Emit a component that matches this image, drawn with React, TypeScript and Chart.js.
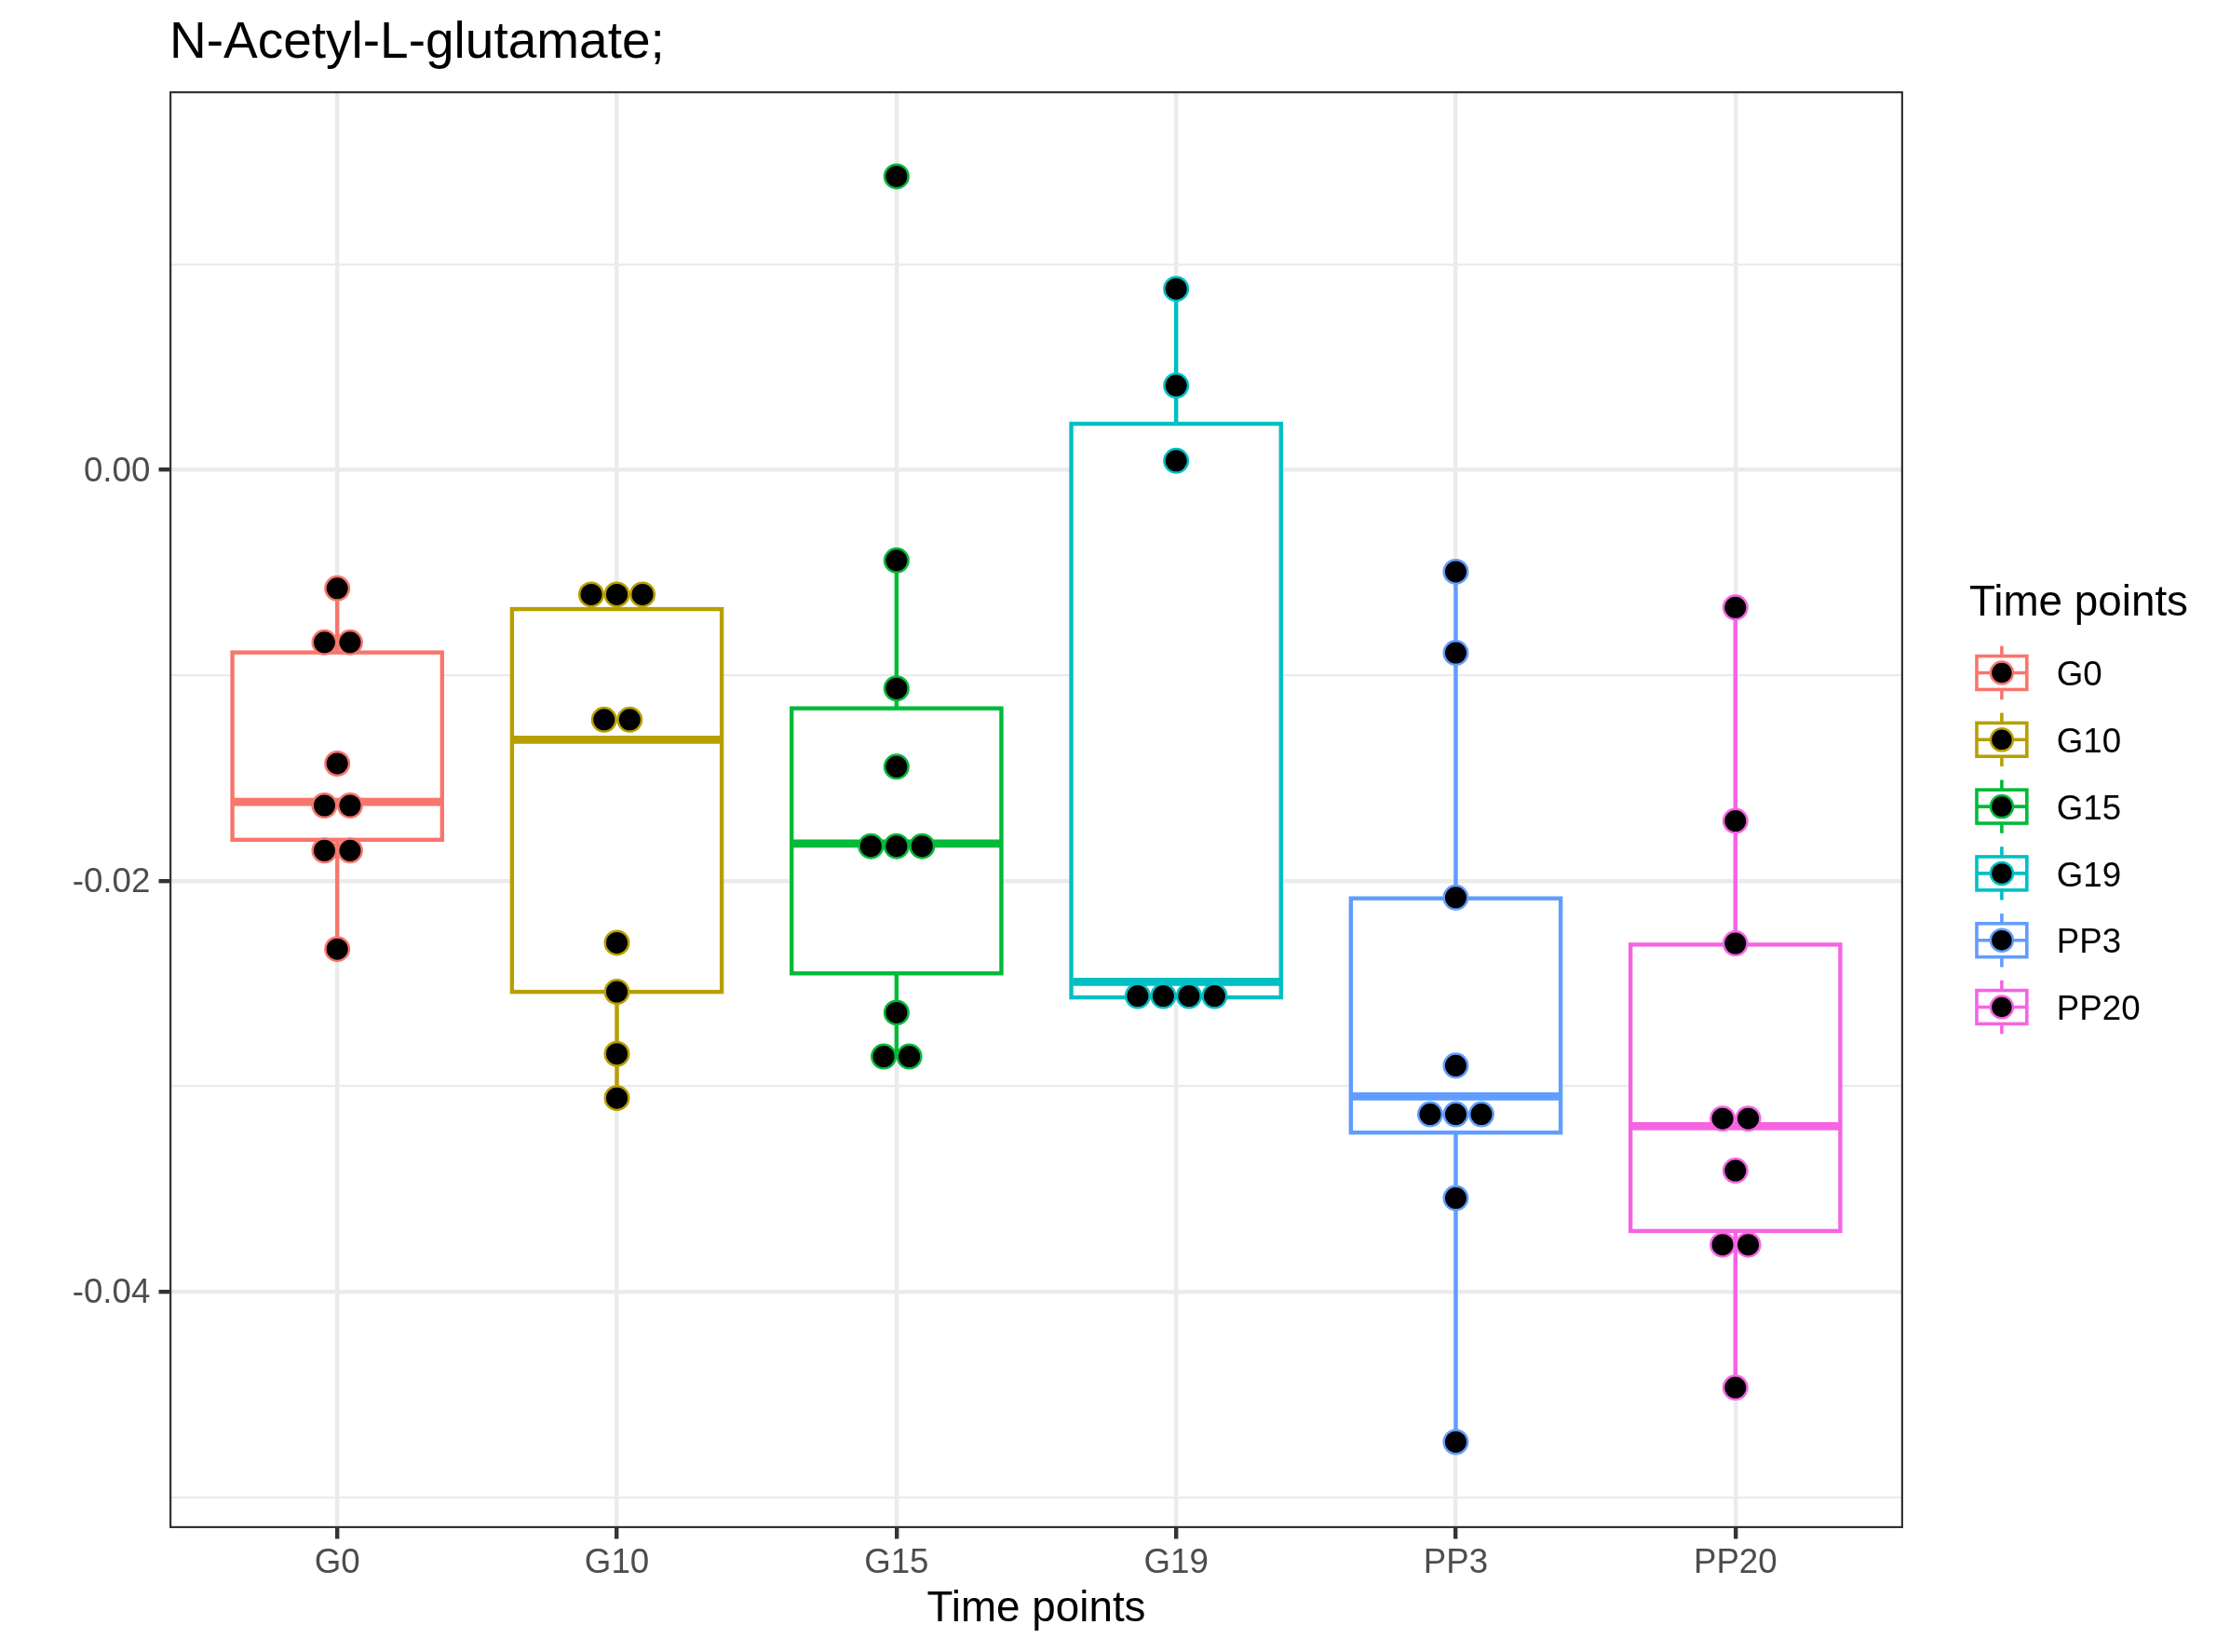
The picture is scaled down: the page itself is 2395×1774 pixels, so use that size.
import React, { useEffect, useRef } from "react";
import { Chart, registerables } from "chart.js";

Chart.register(...registerables);

// ---------------- data ----------------
const TITLE = "N-Acetyl-L-glutamate;";
const X_TITLE = "Time points";
const LEGEND_TITLE = "Time points";

const categories = ["G0", "G10", "G15", "G19", "PP3", "PP20"];
const colors = ["#F8766D", "#B79F00", "#00BA38", "#00BFC4", "#619CFF", "#F564E3"];

// individual observations (dot plot)
const g0Values = [-0.00577, -0.0084, -0.0084, -0.0143, -0.01634, -0.01634, -0.01853, -0.01853, -0.02333];
const g10Values = [-0.00607, -0.00607, -0.00607, -0.01216, -0.01216, -0.02302, -0.02541, -0.02843, -0.03058];
const g15Values = [0.01428, -0.00441, -0.01064, -0.01445, -0.01832, -0.01832, -0.01832, -0.02642, -0.02856, -0.02856];
const g19Values = [0.00881, 0.0041, 0.00044, -0.02561, -0.02561, -0.02561, -0.02561];
const pp3Values = [-0.00496, -0.00891, -0.02082, -0.029, -0.03137, -0.03137, -0.03137, -0.03545, -0.04732];
const pp20Values = [-0.0067, -0.01709, -0.02305, -0.03158, -0.03158, -0.03411, -0.03772, -0.03772, -0.04467];
const groupValues = [g0Values, g10Values, g15Values, g19Values, pp3Values, pp20Values];

// box plot statistics
const boxQ1 = [-0.01801, -0.02541, -0.02451, -0.02568, -0.03226, -0.03705];
const boxMedian = [-0.01616, -0.01314, -0.01819, -0.02492, -0.0305, -0.03195];
const boxQ3 = [-0.00889, -0.00678, -0.01161, 0.00224, -0.02086, -0.02311];
const whiskerLow = [-0.02333, -0.03058, -0.02856, -0.02568, -0.04732, -0.04467];
const whiskerHigh = [-0.00577, -0.00607, -0.00441, 0.00881, -0.00496, -0.0067];

// y axis
const yMajorTicks = [0, -0.02, -0.04];
const yMajorLabels = ["0.00", "-0.02", "-0.04"];
const yMinorTicks = [0.01, -0.01, -0.03, -0.05];
const Y_MIN = -0.051513;
const Y_MAX = 0.018425;

// ---------------- styling ----------------
const FONT = "'Liberation Sans', Arial, Helvetica, sans-serif";
const DOT_STEP = 0.0916; // dot diameter in category units
const BOX_WIDTH = 0.75;
const GRID = "#EBEBEB";
const DARK = "#333333";

function stackPoints(values: number[], index: number) {
  const counts = new Map<number, number>();
  values.forEach((v) => counts.set(v, (counts.get(v) ?? 0) + 1));
  const seen = new Map<number, number>();
  return values.map((v) => {
    const n = counts.get(v) ?? 1;
    const k = seen.get(v) ?? 0;
    seen.set(v, k + 1);
    return { x: index + (k - (n - 1) / 2) * DOT_STEP, y: v };
  });
}

const isMajor = (v: number) => yMajorTicks.some((t) => Math.abs(t - v) < 1e-9);

const boxPlugin = {
  id: "boxes",
  beforeDatasetsDraw(chart: any) {
    const { ctx, chartArea, scales } = chart;
    const x = scales.x;
    const y = scales.y;
    ctx.save();
    ctx.beginPath();
    ctx.rect(chartArea.left, chartArea.top, chartArea.right - chartArea.left, chartArea.bottom - chartArea.top);
    ctx.clip();
    categories.forEach((_, i) => {
      const cx = x.getPixelForValue(i);
      const hw = x.getPixelForValue(i + BOX_WIDTH / 2) - cx;
      const pQ1 = y.getPixelForValue(boxQ1[i]);
      const pQ3 = y.getPixelForValue(boxQ3[i]);
      const pMed = y.getPixelForValue(boxMedian[i]);
      const pLo = y.getPixelForValue(whiskerLow[i]);
      const pHi = y.getPixelForValue(whiskerHigh[i]);
      ctx.strokeStyle = colors[i];
      ctx.lineCap = "butt";
      ctx.lineJoin = "miter";
      ctx.lineWidth = 4.4;
      ctx.beginPath();
      ctx.moveTo(cx, pQ3);
      ctx.lineTo(cx, pHi);
      ctx.moveTo(cx, pQ1);
      ctx.lineTo(cx, pLo);
      ctx.stroke();
      ctx.fillStyle = "#FFFFFF";
      ctx.fillRect(cx - hw, pQ3, 2 * hw, pQ1 - pQ3);
      ctx.strokeRect(cx - hw, pQ3, 2 * hw, pQ1 - pQ3);
      ctx.lineWidth = 8.7;
      ctx.beginPath();
      ctx.moveTo(cx - hw, pMed);
      ctx.lineTo(cx + hw, pMed);
      ctx.stroke();
    });
    ctx.restore();
  },
};

const borderPlugin = {
  id: "panelBorder",
  afterDatasetsDraw(chart: any) {
    const { ctx, chartArea } = chart;
    const w = chartArea.right - chartArea.left;
    const h = chartArea.bottom - chartArea.top;
    ctx.save();
    ctx.beginPath();
    ctx.rect(chartArea.left, chartArea.top, w, h);
    ctx.clip();
    ctx.strokeStyle = DARK;
    ctx.lineWidth = 4.4;
    ctx.strokeRect(chartArea.left, chartArea.top, w, h);
    ctx.restore();
  },
};

const legendPlugin = {
  id: "ggLegend",
  afterDraw(chart: any) {
    const { ctx } = chart;
    const left = 2114;
    const key = 71.8;
    const firstTop = 686.6;
    ctx.save();
    ctx.fillStyle = "#000000";
    ctx.textAlign = "left";
    ctx.textBaseline = "alphabetic";
    ctx.font = `45.8px ${FONT}`;
    ctx.fillText(LEGEND_TITLE, left + 1, 661);
    categories.forEach((label, i) => {
      const cx = left + key / 2;
      const cy = firstTop + key * i + key / 2;
      const bw = key * 0.375;
      const bh = key * 0.25;
      ctx.strokeStyle = colors[i];
      ctx.lineWidth = 3.6;
      ctx.lineCap = "butt";
      ctx.beginPath();
      ctx.moveTo(cx, cy - key * 0.4);
      ctx.lineTo(cx, cy - bh);
      ctx.moveTo(cx, cy + bh);
      ctx.lineTo(cx, cy + key * 0.4);
      ctx.stroke();
      ctx.fillStyle = "#FFFFFF";
      ctx.fillRect(cx - bw, cy - bh, 2 * bw, 2 * bh);
      ctx.strokeRect(cx - bw, cy - bh, 2 * bw, 2 * bh);
      ctx.beginPath();
      ctx.moveTo(cx - bw, cy);
      ctx.lineTo(cx + bw, cy);
      ctx.stroke();
      ctx.beginPath();
      ctx.arc(cx, cy, 12, 0, Math.PI * 2);
      ctx.fillStyle = "#000000";
      ctx.fill();
      ctx.lineWidth = 2.5;
      ctx.stroke();
      ctx.fillStyle = "#000000";
      ctx.font = `36.7px ${FONT}`;
      ctx.textBaseline = "middle";
      ctx.fillText(label, left + key + 23, cy + 3.5);
      ctx.textBaseline = "alphabetic";
    });
    ctx.restore();
  },
};

export default function App() {
  const ref = useRef<HTMLCanvasElement>(null);

  useEffect(() => {
    document.body.style.margin = "0";
    const canvas = ref.current;
    if (!canvas) return;
    const chart = new Chart(canvas, {
      type: "scatter",
      data: {
        datasets: categories.map((c, i) => ({
          label: c,
          data: stackPoints(groupValues[i], i),
          pointRadius: 12.75,
          pointHoverRadius: 12.75,
          pointBorderWidth: 2.5,
          pointBackgroundColor: "#000000",
          pointBorderColor: colors[i],
        })),
      },
      options: {
        responsive: false,
        animation: false,
        devicePixelRatio: 1,
        events: [],
        layout: { padding: { left: 0, right: 351, top: 0, bottom: 0 } },
        plugins: {
          legend: { display: false },
          tooltip: { enabled: false },
          title: {
            display: true,
            text: TITLE,
            align: "start",
            fullSize: false,
            color: "#000000",
            font: { family: FONT, size: 55, weight: "normal", lineHeight: 1.2 },
            padding: { top: 14, bottom: 18 },
          },
        },
        scales: {
          x: {
            type: "linear",
            min: -0.6,
            max: 5.6,
            afterBuildTicks: (s: any) => {
              s.ticks = categories.map((_, i) => ({ value: i }));
            },
            afterFit: (s: any) => {
              s.height = 133;
            },
            ticks: {
              autoSkip: false,
              maxRotation: 0,
              callback: (v: any) => categories[Math.round(Number(v))] ?? "",
              color: "#4D4D4D",
              font: { family: FONT, size: 36.7, lineHeight: 1.2 },
              padding: 4.3,
            },
            grid: {
              color: GRID,
              lineWidth: 4.4,
              drawTicks: true,
              tickLength: 11.5,
              tickColor: DARK,
              tickWidth: 4.4,
            },
            border: { display: false },
            title: {
              display: true,
              text: X_TITLE,
              color: "#000000",
              font: { family: FONT, size: 45.8, lineHeight: 1.2 },
              padding: { top: 0, bottom: 18 },
            },
          },
          y: {
            type: "linear",
            min: Y_MIN,
            max: Y_MAX,
            afterBuildTicks: (s: any) => {
              s.ticks = [...yMinorTicks, ...yMajorTicks].sort((a, b) => a - b).map((v) => ({ value: v }));
            },
            afterFit: (s: any) => {
              s.width = 182;
            },
            ticks: {
              autoSkip: false,
              labelOffset: 2,
              callback: (v: any) => {
                const k = yMajorTicks.findIndex((t) => Math.abs(t - Number(v)) < 1e-9);
                return k >= 0 ? yMajorLabels[k] : "";
              },
              color: "#4D4D4D",
              font: { family: FONT, size: 36.7, lineHeight: 1.2 },
              padding: 9.2,
            },
            grid: {
              color: GRID,
              lineWidth: (c: any) => (isMajor(c.tick?.value ?? 1) ? 4.4 : 2.2),
              drawTicks: true,
              tickLength: 11.5,
              tickColor: (c: any) => (isMajor(c.tick?.value ?? 1) ? DARK : "rgba(0,0,0,0)"),
              tickWidth: (c: any) => (isMajor(c.tick?.value ?? 1) ? 4.4 : 0),
            },
            border: { display: false },
          },
        },
      } as any,
      plugins: [boxPlugin, borderPlugin, legendPlugin],
    });
    return () => chart.destroy();
  }, []);

  return (
    <canvas
      ref={ref}
      width={2395}
      height={1774}
      style={{ display: "block", width: "2395px", height: "1774px" }}
    />
  );
}
